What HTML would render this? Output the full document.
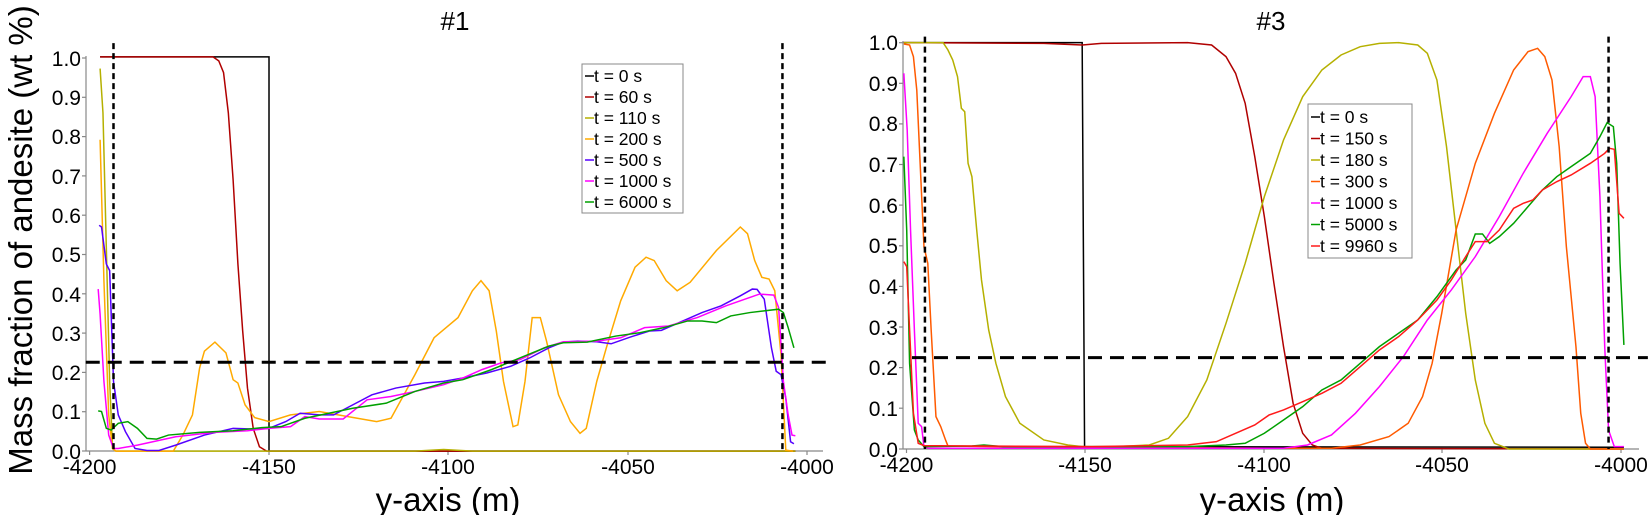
<!DOCTYPE html>
<html><head><meta charset="utf-8"><style>
body{margin:0;background:#fff}
svg{display:block;font-family:"Liberation Sans",sans-serif}
polyline,line{fill:none;vector-effect:non-scaling-stroke}
</style></head><body>
<svg width="1648" height="515" viewBox="0 0 1648 515" xmlns="http://www.w3.org/2000/svg">
<rect width="1648" height="515" fill="#fff"/>
<text x="455" y="30" font-size="26" text-anchor="middle">#1</text>
<text x="1271" y="30" font-size="26" text-anchor="middle">#3</text>
<text x="448" y="511" font-size="33" text-anchor="middle">y-axis (m)</text>
<text x="1272" y="511" font-size="33" text-anchor="middle">y-axis (m)</text>
<text transform="translate(32,240) rotate(-90)" font-size="33" text-anchor="middle">Mass fraction of andesite (wt %)</text>

<g stroke="#888" stroke-width="1.2">
<line x1="86" y1="56" x2="86" y2="451"/><line x1="86" y1="451" x2="823" y2="451"/>
<line x1="82" y1="58" x2="86" y2="58"/><line x1="82" y1="97.3" x2="86" y2="97.3"/><line x1="82" y1="136.6" x2="86" y2="136.6"/><line x1="82" y1="175.9" x2="86" y2="175.9"/><line x1="82" y1="215.2" x2="86" y2="215.2"/><line x1="82" y1="254.5" x2="86" y2="254.5"/><line x1="82" y1="293.8" x2="86" y2="293.8"/><line x1="82" y1="333.1" x2="86" y2="333.1"/><line x1="82" y1="372.4" x2="86" y2="372.4"/><line x1="82" y1="411.7" x2="86" y2="411.7"/><line x1="82" y1="451" x2="86" y2="451"/>
<line x1="89.6" y1="451" x2="89.6" y2="455"/><line x1="269" y1="451" x2="269" y2="455"/><line x1="448" y1="451" x2="448" y2="455"/><line x1="628" y1="451" x2="628" y2="455"/><line x1="807" y1="451" x2="807" y2="455"/>
</g>
<g font-size="21" text-anchor="end">
<text x="81" y="66">1.0</text><text x="81" y="105">0.9</text><text x="81" y="144">0.8</text><text x="81" y="184">0.7</text><text x="81" y="223">0.6</text><text x="81" y="262">0.5</text><text x="81" y="302">0.4</text><text x="81" y="341">0.3</text><text x="81" y="380">0.2</text><text x="81" y="419">0.1</text><text x="81" y="459">0.0</text>
</g>
<g font-size="21" text-anchor="middle">
<text x="89.6" y="474">-4200</text><text x="269" y="474">-4150</text><text x="448" y="474">-4100</text><text x="628" y="474">-4050</text><text x="807" y="474">-4000</text>
</g>

<g transform="translate(80,180) scale(0.4785,0.3356)" stroke-width="1.5">
<polyline stroke="#000" points="42,-367 395,-367 395,808 1495,808"/>
<polyline stroke="#b00000" points="42,-367 278,-367 290,-355 300,-320 310,-200 320,0 330,250 340,450 350,620 362,740 375,795 390,808 1495,808"/>
<polyline stroke="#b5b000" points="42,-332 48,-200 55,200 62,600 68,800 75,808 700,808 760,803 820,808 1495,808"/>
<polyline stroke="#ffaa00" points="42,-120 50,300 60,700 68,800 75,808 195,808 215,760 235,700 250,560 260,510 282,483 305,515 320,595 330,605 345,670 365,708 395,720 440,700 500,690 560,705 620,720 650,710 700,580 740,470 790,410 820,330 838,300 855,330 870,450 885,600 905,735 915,730 930,600 945,410 962,410 975,480 1000,640 1025,720 1045,755 1058,740 1080,600 1100,500 1130,360 1160,260 1183,230 1200,240 1225,300 1248,330 1275,305 1330,210 1380,140 1395,160 1410,240 1425,290 1440,295 1452,330 1465,520 1475,805 1490,808"/>
<polyline stroke="#5500ff" points="40,135 45,140 55,250 62,270 70,600 80,700 95,750 115,800 140,806 165,806 200,790 260,760 320,740 360,742 395,740 430,720 460,695 500,700 530,700 570,670 610,640 660,620 720,605 760,600 800,590 850,575 900,555 940,530 980,500 1010,483 1040,480 1080,482 1110,488 1150,468 1190,450 1215,448 1260,420 1300,395 1340,375 1380,345 1405,325 1415,326 1430,355 1445,500 1455,570 1465,580 1475,650 1485,780 1492,786"/>
<polyline stroke="#ff00ff" points="38,325 42,400 50,600 60,760 70,800 80,800 120,790 200,765 280,752 350,747 395,740 440,735 470,705 500,712 550,712 600,655 650,645 700,630 760,610 800,590 840,565 880,545 920,535 970,500 1010,482 1080,480 1130,470 1180,440 1230,435 1290,410 1350,375 1400,350 1420,340 1450,343 1460,380 1470,600 1480,700 1488,760 1495,762"/>
<polyline stroke="#00a000" points="38,688 45,690 55,740 65,745 80,725 100,720 120,740 140,770 160,772 185,760 250,752 320,747 380,738 420,735 470,710 520,695 570,680 640,665 700,630 760,605 800,595 860,565 920,530 980,495 1010,485 1060,483 1120,465 1170,455 1220,440 1270,420 1300,420 1330,425 1360,405 1400,395 1460,385 1470,395 1480,440 1492,500"/>
<line x1="70" y1="-408" x2="70" y2="808" stroke="#000" stroke-width="2.5" stroke-dasharray="6,4"/>
<line x1="1468" y1="-408" x2="1468" y2="808" stroke="#000" stroke-width="2.5" stroke-dasharray="6,4"/>
<line x1="12" y1="543" x2="1560" y2="543" stroke="#000" stroke-width="3" stroke-dasharray="14,8"/>
</g>

<rect x="582" y="64" width="101" height="149" fill="#fff" stroke="#888" stroke-width="1"/>
<g stroke-width="1.5">
<line x1="585" y1="76" x2="594" y2="76" stroke="#000"/>
<line x1="585" y1="97" x2="594" y2="97" stroke="#b00000"/>
<line x1="585" y1="118" x2="594" y2="118" stroke="#b5b000"/>
<line x1="585" y1="139" x2="594" y2="139" stroke="#ffaa00"/>
<line x1="585" y1="160" x2="594" y2="160" stroke="#5500ff"/>
<line x1="585" y1="181" x2="594" y2="181" stroke="#ff00ff"/>
<line x1="585" y1="202" x2="594" y2="202" stroke="#00a000"/>
</g>
<g font-size="17.5">
<text x="594" y="82">t = 0 s</text><text x="594" y="103">t = 60 s</text><text x="594" y="124">t = 110 s</text><text x="594" y="145">t = 200 s</text><text x="594" y="166">t = 500 s</text><text x="594" y="187">t = 1000 s</text><text x="594" y="208">t = 6000 s</text>
</g>

<g stroke="#888" stroke-width="1.2">
<line x1="903" y1="41" x2="903" y2="449"/><line x1="903" y1="449" x2="1639" y2="449"/>
<line x1="899" y1="42.7" x2="903" y2="42.7"/><line x1="899" y1="83.3" x2="903" y2="83.3"/><line x1="899" y1="123.9" x2="903" y2="123.9"/><line x1="899" y1="164.5" x2="903" y2="164.5"/><line x1="899" y1="205.1" x2="903" y2="205.1"/><line x1="899" y1="245.8" x2="903" y2="245.8"/><line x1="899" y1="286.4" x2="903" y2="286.4"/><line x1="899" y1="327" x2="903" y2="327"/><line x1="899" y1="367.6" x2="903" y2="367.6"/><line x1="899" y1="408.2" x2="903" y2="408.2"/><line x1="899" y1="449" x2="903" y2="449"/>
<line x1="906.5" y1="449" x2="906.5" y2="453"/><line x1="1085" y1="449" x2="1085" y2="453"/><line x1="1264" y1="449" x2="1264" y2="453"/><line x1="1442" y1="449" x2="1442" y2="453"/><line x1="1621" y1="449" x2="1621" y2="453"/>
</g>
<g font-size="21" text-anchor="end">
<text x="898" y="50">1.0</text><text x="898" y="91">0.9</text><text x="898" y="131">0.8</text><text x="898" y="172">0.7</text><text x="898" y="213">0.6</text><text x="898" y="253">0.5</text><text x="898" y="294">0.4</text><text x="898" y="335">0.3</text><text x="898" y="375">0.2</text><text x="898" y="416">0.1</text><text x="898" y="457">0.0</text>
</g>
<g font-size="21" text-anchor="middle">
<text x="906.5" y="472">-4200</text><text x="1085" y="472">-4150</text><text x="1264" y="472">-4100</text><text x="1442" y="472">-4050</text><text x="1621" y="472">-4000</text>
</g>

<g transform="translate(900,30) scale(0.4794,0.3333)" stroke-width="1.5">
<polyline stroke="#000" points="8,38 380,38 385,1250 1510,1252"/>
<polyline stroke="#b00000" points="8,38 300,40 380,45 420,40 600,38 650,45 680,80 700,130 720,220 740,380 760,560 780,760 800,950 820,1120 840,1210 860,1245 880,1255 1510,1257"/>
<polyline stroke="#b5b000" points="8,38 90,38 100,60 110,90 120,140 128,235 135,245 142,400 150,440 160,600 170,750 185,900 200,1000 220,1100 250,1180 300,1230 350,1245 380,1250 450,1250 520,1245 560,1225 600,1160 640,1050 680,880 720,700 760,500 800,330 840,200 880,120 920,75 960,50 1000,40 1040,38 1080,45 1100,70 1120,150 1140,350 1160,600 1180,850 1200,1050 1220,1180 1240,1240 1270,1257 1510,1257"/>
<polyline stroke="#ff5a00" points="8,42 20,45 28,80 35,180 42,400 50,650 58,700 65,900 75,1160 85,1190 95,1230 100,1248 200,1250 800,1255 900,1255 960,1245 1020,1220 1060,1180 1090,1100 1110,1000 1130,850 1160,600 1200,400 1240,250 1280,120 1310,65 1330,55 1345,80 1360,150 1375,350 1390,650 1410,950 1420,1150 1430,1240 1440,1257 1510,1257"/>
<polyline stroke="#ff00ff" points="8,130 15,300 22,600 30,900 38,1180 45,1190 50,1250 60,1255 800,1255 850,1245 900,1215 950,1150 1000,1070 1050,980 1100,870 1150,780 1200,680 1250,560 1300,430 1350,310 1400,200 1425,140 1440,140 1450,200 1460,500 1470,950 1478,1200 1490,1250 1510,1250"/>
<polyline stroke="#00a000" points="8,380 14,600 20,1000 30,1200 38,1230 50,1250 150,1248 175,1245 215,1250 600,1250 680,1245 720,1240 760,1210 800,1170 840,1130 880,1080 920,1050 960,1000 1000,950 1040,910 1080,870 1120,800 1160,720 1180,690 1200,612 1215,612 1230,640 1250,620 1280,580 1310,530 1340,480 1370,440 1400,410 1440,370 1460,320 1475,278 1488,290 1495,400 1502,700 1510,945"/>
<polyline stroke="#ff1a1a" points="8,695 14,710 20,900 28,1150 38,1240 50,1247 150,1248 400,1250 600,1245 660,1235 700,1210 740,1185 770,1155 800,1140 840,1115 880,1090 920,1060 960,1010 1000,960 1040,920 1080,870 1120,810 1150,750 1180,680 1200,635 1225,635 1250,600 1280,535 1300,520 1320,510 1340,480 1370,455 1400,435 1440,400 1470,370 1480,355 1490,358 1500,550 1510,565"/>
<line x1="52" y1="20" x2="52" y2="1257" stroke="#000" stroke-width="2.5" stroke-dasharray="6,4"/>
<line x1="1478" y1="20" x2="1478" y2="1257" stroke="#000" stroke-width="2.5" stroke-dasharray="6,4"/>
<line x1="25" y1="983" x2="1560" y2="983" stroke="#000" stroke-width="3" stroke-dasharray="14,8"/>
</g>

<rect x="1308" y="104" width="104" height="154" fill="#fff" stroke="#888" stroke-width="1"/>
<g stroke-width="1.5">
<line x1="1311" y1="117" x2="1320" y2="117" stroke="#000"/>
<line x1="1311" y1="138.5" x2="1320" y2="138.5" stroke="#b00000"/>
<line x1="1311" y1="160" x2="1320" y2="160" stroke="#b5b000"/>
<line x1="1311" y1="181.5" x2="1320" y2="181.5" stroke="#ff5a00"/>
<line x1="1311" y1="203" x2="1320" y2="203" stroke="#ff00ff"/>
<line x1="1311" y1="224.5" x2="1320" y2="224.5" stroke="#00a000"/>
<line x1="1311" y1="246" x2="1320" y2="246" stroke="#ff1a1a"/>
</g>
<g font-size="17.5">
<text x="1320" y="123">t = 0 s</text><text x="1320" y="144.5">t = 150 s</text><text x="1320" y="166">t = 180 s</text><text x="1320" y="187.5">t = 300 s</text><text x="1320" y="209">t = 1000 s</text><text x="1320" y="230.5">t = 5000 s</text><text x="1320" y="252">t = 9960 s</text>
</g>
</svg>
</body></html>
